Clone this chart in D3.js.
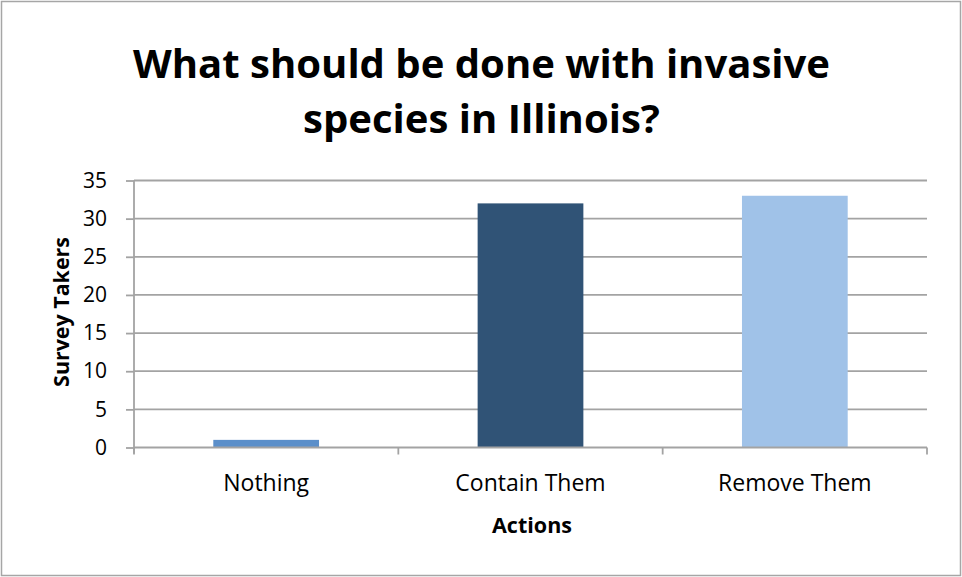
<!DOCTYPE html>
<html>
<head>
<meta charset="utf-8">
<script src="https://cdn.jsdelivr.net/npm/d3@7"></script>
<style>
  html, body { margin: 0; padding: 0; background: #fff; }
  svg { display: block; }
  text { font-family: "Open Sans", Lato, sans-serif; fill: #000; }
</style>
</head>
<body>
<svg id="chart" width="962" height="577"></svg>
<script>
// Survey responses
const categories = ["Nothing", "Contain Them", "Remove Them"];
const values = [1, 32, 33];
const barColors = ["#5b8fca", "#305376", "#a0c2e8"];
const yTicks = [0, 5, 10, 15, 20, 25, 30, 35];
const titleLines = ["What should be done with invasive", "species in Illinois?"];
const xAxisTitle = "Actions";
const yAxisTitle = "Survey Takers";

const W = 962, H = 577;
const plot = { left: 134, right: 927, top: 180.5, bottom: 447.5 };
const gridColor = "#a3a3a3";

const svg = d3.select("#chart");

// scale a text element's font so its rendered width equals `target`
function fitWidth(sel, baseSize, target) {
  sel.attr("font-size", baseSize);
  const w = sel.node().getComputedTextLength();
  const size = baseSize * target / w;
  sel.attr("font-size", size);
  return size;
}

// outer frame
svg.append("rect")
  .attr("x", 1.5).attr("y", 1.5)
  .attr("width", W - 3).attr("height", H - 3)
  .attr("fill", "#fff").attr("stroke", "#a6a6a6").attr("stroke-width", 1.5);

const x = d3.scaleBand()
  .domain(categories)
  .range([plot.left, plot.right])
  .paddingInner(0.6)
  .paddingOuter(0.3);

const y = d3.scaleLinear()
  .domain([0, 35])
  .range([plot.bottom, plot.top]);

// horizontal gridlines
svg.append("g")
  .selectAll("line")
  .data(yTicks.filter(t => t > 0))
  .join("line")
  .attr("x1", plot.left).attr("x2", plot.right)
  .attr("y1", d => y(d)).attr("y2", d => y(d))
  .attr("stroke", gridColor).attr("stroke-width", 1.8);

// bars
svg.append("g")
  .selectAll("rect")
  .data(categories)
  .join("rect")
  .attr("x", d => x(d))
  .attr("y", (d, i) => y(values[i]))
  .attr("width", x.bandwidth())
  .attr("height", (d, i) => y(0) - y(values[i]))
  .attr("fill", (d, i) => barColors[i]);

// y axis
const yAxis = svg.append("g")
  .attr("transform", `translate(${plot.left},0)`)
  .call(d3.axisLeft(y).tickValues(yTicks).tickSize(8).tickPadding(19));
yAxis.select(".domain").attr("stroke", gridColor).attr("stroke-width", 1.8)
  .attr("d", `M0,${plot.top}V${plot.bottom + 6}`);
yAxis.selectAll(".tick line").attr("stroke", gridColor).attr("stroke-width", 1.8);
yAxis.selectAll(".tick text")
  .style("font-family", "'Open Sans', sans-serif")
  .attr("font-size", 21).attr("fill", "#000");

// x axis: baseline with tick marks at category boundaries
const xAxis = svg.append("g");
xAxis.append("line")
  .attr("x1", plot.left).attr("x2", plot.right)
  .attr("y1", plot.bottom).attr("y2", plot.bottom)
  .attr("stroke", gridColor).attr("stroke-width", 1.8);
const boundaries = categories.map(c => x(c) - x.step() * x.paddingInner() / 2)
  .concat([plot.right]);
xAxis.selectAll("line.tk")
  .data(boundaries)
  .join("line").attr("class", "tk")
  .attr("x1", d => d).attr("x2", d => d)
  .attr("y1", plot.bottom).attr("y2", plot.bottom + 7)
  .attr("stroke", gridColor).attr("stroke-width", 1.8);
xAxis.selectAll("text")
  .data(categories)
  .join("text")
  .attr("x", d => x(d) + x.bandwidth() / 2)
  .attr("y", 491)
  .attr("text-anchor", "middle")
  .attr("font-size", 23)
  .text(d => d);

// axis titles
const xt = svg.append("text")
  .attr("x", 532).attr("y", 533)
  .attr("text-anchor", "middle")
  .attr("font-weight", "bold")
  .text(xAxisTitle);
fitWidth(xt, 21, 80);

const yt = svg.append("text")
  .attr("transform", "translate(69,312) rotate(-90)")
  .attr("text-anchor", "middle")
  .attr("font-weight", "bold")
  .text(yAxisTitle);
fitWidth(yt, 21, 150);

// chart title, first line sized to the intended span
const tLines = svg.append("g").selectAll("text")
  .data(titleLines)
  .join("text")
  .attr("x", 481.5)
  .attr("y", (d, i) => 78 + i * 55)
  .attr("text-anchor", "middle")
  .attr("font-weight", "bold")
  .text(d => d);
const titleSize = fitWidth(d3.select(tLines.nodes()[0]), 40, 697);
tLines.attr("font-size", titleSize);
</script>
</body>
</html>
